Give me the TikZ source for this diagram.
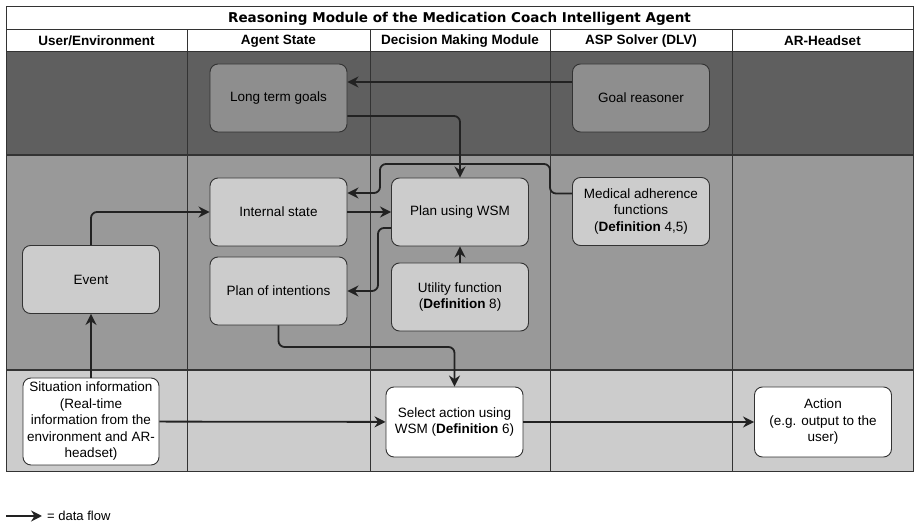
\documentclass[tikz,border=0pt]{standalone}
\usepackage{fontspec}
\setmainfont{Liberation Sans}
\newfontfamily\titlefont{DejaVu Sans}
\usepackage{tikz}
\usepackage{xcolor}
\usetikzlibrary{arrows.meta}

\definecolor{bandtop}{HTML}{5F5F5F}
\definecolor{bandmid}{HTML}{999999}
\definecolor{bandlow}{HTML}{CCCCCC}
\definecolor{boxtop}{HTML}{8E8E8E}
\definecolor{boxmid}{HTML}{CCCCCC}
\definecolor{linegray}{HTML}{333333}
\definecolor{arrowgray}{HTML}{222222}

\begin{document}
\begin{tikzpicture}[x=1pt, y=-1pt,
    box/.style={draw=linegray, line width=0.9pt, rounded corners=8pt,
        minimum width=137pt, minimum height=68pt, align=center, inner sep=2pt,
        font=\fontsize{13.5}{16.5}\selectfont},
    head/.style={font=\fontsize{13.5}{16}\selectfont\bfseries},
    flow/.style={-{Stealth[length=11pt,width=11pt]}, line width=1.8pt,
        draw=arrowgray, rounded corners=6pt}]
    \useasboundingbox (0,0) rectangle (914,526);

    % swimlanes
    \fill[white] (6,7) rectangle (913,52);
    \fill[bandtop] (6,52) rectangle (913,155);
    \fill[bandmid] (6,155) rectangle (913,370);
    \fill[bandlow] (6,370) rectangle (913,472);
    \draw[linegray, line width=1pt] (6,7) rectangle (913,472);
    \foreach \y in {30,52}
        \draw[linegray, line width=1pt] (6,\y) -- (913,\y);
    \foreach \y in {155,370}
        \draw[linegray, line width=2pt] (6,\y) -- (913,\y);
    \foreach \x in {187,370,550,732}
        \draw[linegray, line width=1pt] (\x,30) -- (\x,472);

    \node[font=\fontsize{13.5}{16}\selectfont\titlefont\bfseries] (title) at (459.5,18.5)
        {Reasoning Module of the Medication Coach Intelligent Agent};
    \node[head] (user) at (96.5,41) {User/Environment};
    \node[head] (agent) at (278.5,41) {Agent State};
    \node[head] (decision) at (460,41) {Decision Making Module};
    \node[head] (solver) at (641,41) {ASP Solver (DLV)};
    \node[head] (headset) at (822.5,41) {AR-Headset};

    % boxes
    \node[box, fill=boxtop] (goals) at (278.5,98) {Long term goals};
    \node[box, fill=boxtop] (reasoner) at (641,98) {Goal reasoner};
    \node[box, fill=boxmid] (internal) at (278.5,212) {Internal state};
    \node[box, fill=boxmid] (wsm) at (460,212) {Plan using WSM};
    \node[box, fill=boxmid] (medical) at (641,211.5)
        {Medical adherence\\functions\\(\textbf{Definition} 4,5)};
    \node[box, fill=boxmid] (intentions) at (278.5,291) {Plan of intentions};
    \node[box, fill=boxmid] (utility) at (460,297)
        {Utility function\\(\textbf{Definition} 8)};
    \node[box, fill=boxmid] (event) at (91,279.5) {Event};
    \node[box, fill=white, minimum width=136pt, minimum height=87pt] (situation) at (91,421.5)
        {Situation information\\(Real-time\\information from the\\environment and AR-\\headset)};
    \node[box, fill=white, minimum height=70pt] (select) at (454.5,422)
        {Select action using\\WSM (\textbf{Definition} 6)};
    \node[box, fill=white, minimum height=70pt] (action) at (823,422)
        {Action\\(e.g. output to the\\user)};

    % data flow
    \draw[flow] ([yshift=16pt]reasoner.west) -- ([yshift=16pt]goals.east);
    \draw[flow] ([yshift=-18pt]goals.east) -| (wsm.north);
    \draw[flow] ([yshift=18pt]medical.west) -| (550,164) -| (380,193)
        -- ([yshift=19pt]internal.east);
    \draw[flow] (internal) -- (wsm);
    \draw[flow] ([yshift=-16pt]wsm.west) -- (378,228) |- (intentions.east);
    \draw[flow] (utility) -- (wsm);
    \draw[flow] (intentions.south) -- (278.5,347) -| (select.north);
    \draw[flow] (event.north) |- (internal.west);
    \draw[flow] (situation) -- (event);
    \draw[flow] (situation) -- (select);
    \draw[flow] (select) -- (action);

    % legend
    \coordinate (legstart) at (6,516);
    \coordinate (legend) at (42,516);
    \draw[flow] (legstart) -- (legend);
    \node[right, inner sep=0pt, font=\fontsize{13}{15}\selectfont] (legtext) at (47,516) {= data flow};
\end{tikzpicture}
\end{document}
